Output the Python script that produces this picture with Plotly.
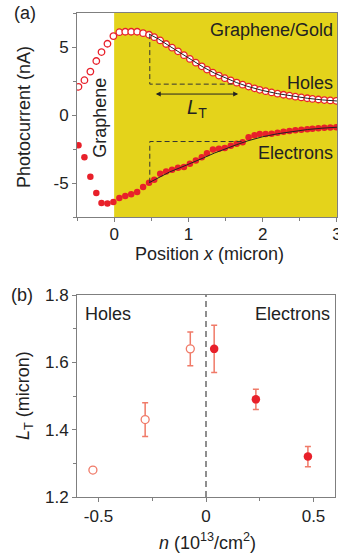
import plotly.graph_objects as go

# ---------------- data: panel (a) ----------------
position = [-0.48, -0.40, -0.32, -0.24, -0.17, -0.09, -0.01, 0.07, 0.15, 0.23, 0.31, 0.39,
            0.47, 0.54, 0.62, 0.70, 0.78, 0.86, 0.94, 1.02, 1.10, 1.18, 1.25, 1.33, 1.41,
            1.49, 1.57, 1.65, 1.73, 1.81, 1.89, 1.96, 2.04, 2.12, 2.20, 2.28, 2.36, 2.44,
            2.52, 2.60, 2.67, 2.75, 2.83, 2.91, 2.99]
holes_current = [2.07, 2.56, 3.19, 3.97, 4.63, 5.24, 5.80, 6.09, 6.12, 6.12, 6.12, 6.02,
                 5.90, 5.72, 5.48, 5.22, 4.95, 4.68, 4.40, 4.12, 3.85, 3.58, 3.34, 3.11, 2.90,
                 2.71, 2.54, 2.38, 2.23, 2.09, 1.96, 1.85, 1.75, 1.66, 1.57, 1.49, 1.42, 1.35,
                 1.29, 1.23, 1.18, 1.14, 1.10, 1.07, 1.04]
electrons_current = [-2.22, -3.10, -4.54, -5.73, -6.47, -6.51, -6.39, -6.10, -5.95, -5.83, -5.66, -5.30,
                     -4.98, -4.76, -4.32, -4.15, -4.02, -3.88, -3.83, -3.59, -3.34, -3.10, -2.81, -2.54, -2.49,
                     -2.42, -2.27, -2.12, -2.00, -1.64, -1.49, -1.39, -1.39, -1.37, -1.30, -1.24, -1.18, -1.13,
                     -1.09, -1.05, -1.01, -0.97, -0.94, -0.92, -0.90]
fit_x = [0.47, 0.60, 0.75, 0.90, 1.05, 1.20, 1.35, 1.50, 1.65, 1.80, 2.00, 2.20, 2.40, 2.60, 2.80, 3.00]
holes_fit = [5.95, 5.58, 5.05, 4.52, 4.00, 3.52, 3.08, 2.70, 2.38, 2.10, 1.80, 1.57, 1.38, 1.23, 1.11, 1.03]
electrons_fit = [-4.98, -4.58, -4.18, -3.85, -3.52, -3.16, -2.80, -2.48, -2.18, -1.90, -1.60, -1.38, -1.20, -1.07, -0.97, -0.90]

# L_T construction guides (data units)
holes_guide_x = [0.48, 0.48, 1.60]
holes_guide_y = [5.95, 2.27, 2.27]
electrons_guide_x = [0.48, 0.48, 1.74]
electrons_guide_y = [-4.98, -1.95, -1.95]
arrow_x = [0.54, 1.67]
arrow_y = 1.54

# ---------------- data: panel (b) ----------------
n_holes = [-0.526, -0.283, -0.073]
lt_holes = [1.28, 1.43, 1.64]
lt_holes_err = [0.0, 0.05, 0.05]
n_electrons = [0.038, 0.232, 0.474]
lt_electrons = [1.64, 1.49, 1.32]
lt_electrons_err = [0.07, 0.03, 0.03]

RED = "#e8202a"
SALMON = "#f07a68"
YELLOW = "#e4d31b"
AXC = "#7f7f7f"
FONT = "Liberation Sans, Arial, sans-serif"
FS = 18
TFS = 17

fig = go.Figure()

# panel (a)
fig.add_trace(go.Scatter(x=position, y=holes_current, mode="markers", xaxis="x", yaxis="y",
                         marker=dict(symbol="circle", size=6.5, color="white",
                                     line=dict(color=RED, width=1.3)), showlegend=False))
fig.add_trace(go.Scatter(x=fit_x, y=holes_fit, mode="lines", xaxis="x", yaxis="y",
                         line=dict(color="#222222", width=1), showlegend=False))
fig.add_trace(go.Scatter(x=position, y=electrons_current, mode="markers", xaxis="x", yaxis="y",
                         marker=dict(symbol="circle", size=6.5, color=RED, line=dict(width=0)),
                         showlegend=False))
fig.add_trace(go.Scatter(x=fit_x, y=electrons_fit, mode="lines", xaxis="x", yaxis="y",
                         line=dict(color="#222222", width=1), showlegend=False))
fig.add_trace(go.Scatter(x=holes_guide_x, y=holes_guide_y, mode="lines", xaxis="x", yaxis="y",
                         line=dict(color="#333333", width=1, dash="5px,3px"), showlegend=False))
fig.add_trace(go.Scatter(x=electrons_guide_x, y=electrons_guide_y, mode="lines", xaxis="x", yaxis="y",
                         line=dict(color="#333333", width=1, dash="5px,3px"), showlegend=False))

# panel (b)
fig.add_trace(go.Scatter(x=n_holes, y=lt_holes, mode="markers", xaxis="x2", yaxis="y2",
                         error_y=dict(type="data", array=lt_holes_err, color=SALMON, thickness=1.5, width=3),
                         marker=dict(symbol="circle", size=8, color="white",
                                     line=dict(color=SALMON, width=1.3)), showlegend=False))
fig.add_trace(go.Scatter(x=n_electrons, y=lt_electrons, mode="markers", xaxis="x2", yaxis="y2",
                         error_y=dict(type="data", array=lt_electrons_err, color=SALMON, thickness=1.5, width=3),
                         marker=dict(symbol="circle", size=8.5, color=RED, line=dict(width=0)),
                         showlegend=False))

axis_common = dict(showline=True, linecolor=AXC, linewidth=1, mirror=True, showgrid=False,
                   zeroline=False, ticks="outside", ticklen=4, tickcolor=AXC, automargin=False,
                   tickfont=dict(family=FONT, size=TFS, color="#222222"))

fig.update_layout(
    width=338, height=556, margin=dict(l=0, r=0, t=0, b=0, autoexpand=False),
    paper_bgcolor="white", plot_bgcolor="white",
    font=dict(family=FONT, size=FS, color="#222222"),
    xaxis=dict(domain=[77/338, 337/338], anchor="y", range=[-0.5, 3.0005], tickvals=[0, 1, 2, 3],
               ticktext=["0", "1", "2", "3"], ticklabelstandoff=-2, ticklabeloverflow="allow",
               minor=dict(tickvals=[-0.5, 0.5, 1.5, 2.5], ticks="outside", ticklen=3, tickcolor=AXC),
               **axis_common),
    yaxis=dict(domain=[1 - 217/556, 1 - 13/556], anchor="x", range=[-7.5, 7.5],
               tickvals=[-5, 0, 5], ticktext=["-5", "0", "5"],
               minor=dict(tickvals=[-7.5, -2.5, 2.5, 7.5], ticks="outside", ticklen=3, tickcolor=AXC),
               **axis_common),
    xaxis2=dict(domain=[77/338, 335/338], anchor="y2", range=[-0.6, 0.6],
                tickvals=[-0.5, 0, 0.5], ticktext=["-0.5", "0", "0.5"],
                minor=dict(tickvals=[-0.25, 0.25], ticks="outside", ticklen=3, tickcolor=AXC),
                **axis_common),
    yaxis2=dict(domain=[1 - 497/556, 1 - 295/556], anchor="x2", range=[1.2, 1.8],
                tickvals=[1.2, 1.4, 1.6, 1.8], ticktext=["1.2", "1.4", "1.6", "1.8"],
                minor=dict(tickvals=[1.3, 1.5, 1.7], ticks="outside", ticklen=3, tickcolor=AXC),
                **axis_common),
    shapes=[
        dict(type="rect", xref="x", yref="y", x0=0, x1=3, y0=-7.5, y1=7.5,
             fillcolor=YELLOW, line=dict(width=0), layer="below"),
        dict(type="line", xref="x2", yref="y2", x0=0, x1=0, y0=1.2, y1=1.8,
             line=dict(color="#444444", width=1.2, dash="6px,4px")),
    ],
)

ann = []
def txt(text, x, y, xref, yref, xanchor="center", yanchor="middle", size=FS, angle=0):
    ann.append(dict(text=text, x=x, y=y, xref=xref, yref=yref, xanchor=xanchor,
                    yanchor=yanchor, showarrow=False, textangle=angle,
                    font=dict(family=FONT, size=size, color="#222222")))

txt("(a)", 25/338, 1 - 13/556, "paper", "paper")
txt("(b)", 22/338, 1 - 295/556, "paper", "paper")
txt("Photocurrent (nA)", 24/338, 1 - 117/556, "paper", "paper", angle=-90)
txt("Position <i>x</i> (micron)", 209/338, 1 - 254/556, "paper", "paper")
txt("<i>L</i><sub>T</sub> (micron)", 24/338, 1 - 396/556, "paper", "paper", angle=-90)
txt("<i>n</i> (10<sup>13</sup>/cm<sup>2</sup>)", 207/338, 1 - 541/556, "paper", "paper")
txt("Graphene/Gold", 2.97, 6.25, "x", "y", xanchor="right")
txt("Holes", 2.97, 2.35, "x", "y", xanchor="right")
txt("Electrons", 2.97, -2.8, "x", "y", xanchor="right")
txt("Graphene", -0.19, -0.2, "x", "y", angle=-90)
txt("<i>L</i><sub>T</sub>", 1.11, 0.5, "x", "y", size=20)
txt("Holes", -0.57, 1.745, "x2", "y2", xanchor="left")
txt("Electrons", 0.585, 1.745, "x2", "y2", xanchor="right")
ann.append(dict(x=arrow_x[1], y=arrow_y, ax=arrow_x[0], ay=arrow_y, xref="x", yref="y",
                axref="x", ayref="y", text="", showarrow=True, arrowhead=2, arrowside="end+start",
                arrowsize=1, arrowwidth=1, arrowcolor="#222222"))
fig.update_layout(annotations=ann)

fig.write_html("out.html")
